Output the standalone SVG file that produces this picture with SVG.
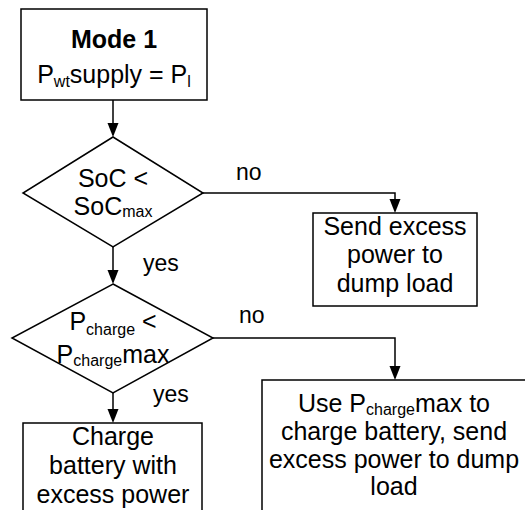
<svg xmlns="http://www.w3.org/2000/svg" width="525" height="510" viewBox="0 0 525 510">
<defs>
<style>
.box{fill:#fff;stroke:#000;stroke-width:1.5}
.ln{fill:none;stroke:#000;stroke-width:1.5}
text{font-family:"Liberation Sans",Arial,sans-serif;font-size:25px;fill:#000}
.c{text-anchor:middle}
.sub{font-size:16px}
.lbl{font-size:23px}
</style>
<marker id="ah" markerWidth="11" markerHeight="14" refX="5.5" refY="14" orient="auto-start-reverse" markerUnits="userSpaceOnUse" viewBox="0 0 11 14">
<path d="M0,0 L11,0 L5.5,14 Z" fill="#000" transform="rotate(0)"/>
</marker>
</defs>
<rect width="525" height="510" fill="#fff"/>
<g id="connectors">
<path class="ln" d="M113,100 V123"/><path d="M107.5,123 H118.5 L113,137 Z"/>
<path class="ln" d="M113,247 V270"/><path d="M107.5,270 H118.5 L113,284 Z"/>
<path class="ln" d="M113,393 V409"/><path d="M107.5,409 H118.5 L113,423 Z"/>
<path class="ln" d="M203,193 H395 V200"/><path d="M389.5,199 H400.5 L395,213 Z"/>
<path class="ln" d="M213,338 H395 V367"/><path d="M389.5,366 H400.5 L395,380 Z"/>
<text class="lbl" x="236" y="180">no</text>
<text class="lbl" x="143" y="271">yes</text>
<text class="lbl" x="239" y="323">no</text>
<text class="lbl" x="153" y="402">yes</text>
</g>
<g id="mode1">
<rect class="box" x="21" y="9" width="186" height="91"/>
<text class="c" x="114" y="48" font-weight="bold">Mode 1</text>
<text class="c" x="114" y="83">P<tspan class="sub" dy="4">wt</tspan><tspan dy="-4">supply = P</tspan><tspan class="sub" dy="4">l</tspan></text>
</g>
<g id="soc">
<polygon class="box" points="113,137 203,193 113,247 23,193"/>
<text class="c" x="113" y="187">SoC &lt;</text>
<text class="c" x="113" y="215">SoC<tspan class="sub" dy="2">max</tspan></text>
</g>
<g id="dump">
<rect class="box" x="313" y="213" width="164" height="93"/>
<text class="c" x="395" y="235">Send excess</text>
<text class="c" x="395" y="263">power to</text>
<text class="c" x="395" y="292">dump load</text>
</g>
<g id="pcharge">
<polygon class="box" points="113,284 213,338 113,393 12,338"/>
<text class="c" x="113" y="330">P<tspan class="sub" dy="5">charge</tspan><tspan dy="-5"> &lt;</tspan></text>
<text class="c" x="113" y="363">P<tspan class="sub" dy="3">charge</tspan><tspan dy="-3">max</tspan></text>
</g>
<g id="charge">
<rect class="box" x="23" y="423" width="179" height="100"/>
<text class="c" x="113" y="445">Charge</text>
<text class="c" x="113" y="474">battery with</text>
<text class="c" x="113" y="503">excess power</text>
</g>
<g id="usemax">
<rect class="box" x="262" y="380" width="270" height="140"/>
<text class="c" x="394" y="412">Use P<tspan class="sub" dy="3">charge</tspan><tspan dy="-3">max to</tspan></text>
<text class="c" x="394" y="440">charge battery, send</text>
<text class="c" x="394" y="468">excess power to dump</text>
<text class="c" x="394" y="495">load</text>
</g>
</svg>
